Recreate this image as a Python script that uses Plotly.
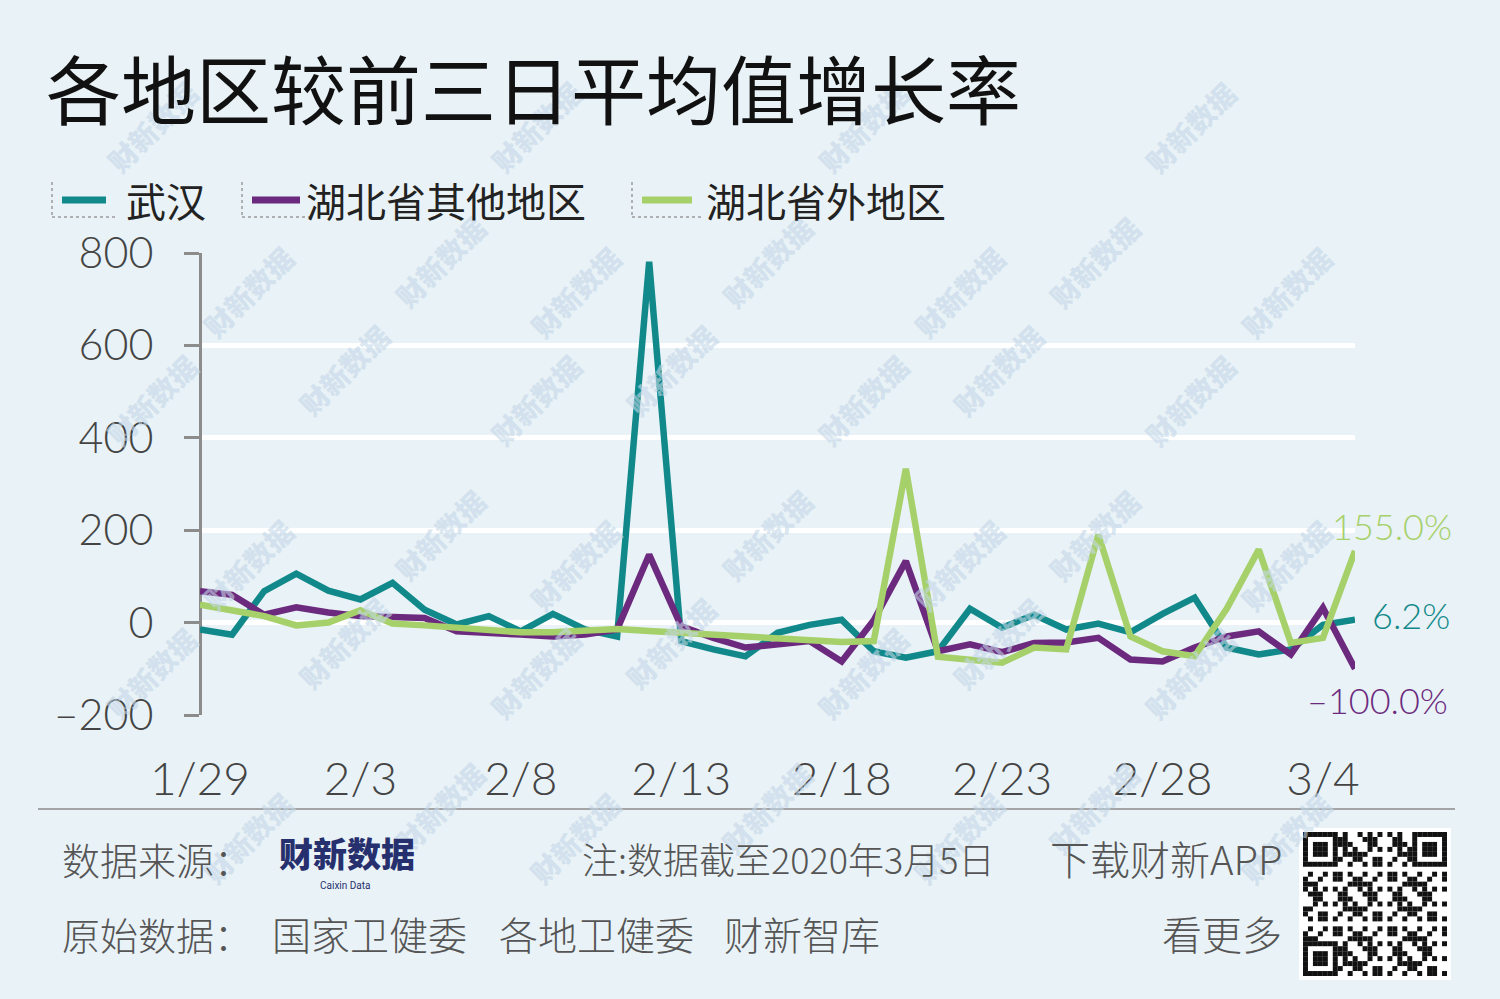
import plotly.graph_objects as go
import pandas as pd

W, H = 1500, 999

# ---------------- data ----------------
dates = pd.date_range("2020-01-29", "2020-03-05", freq="D")
tick_dates = ["2020-01-29", "2020-02-03", "2020-02-08", "2020-02-13",
              "2020-02-18", "2020-02-23", "2020-02-28", "2020-03-04"]
tick_labels = ["1/29", "2/3", "2/8", "2/13", "2/18", "2/23", "2/28", "3/4"]
y_ticks = [-200, 0, 200, 400, 600, 800]
y_tick_labels = ["–200", "0", "200", "400", "600", "800"]

series_names = ["武汉", "湖北省其他地区", "湖北省外地区"]
wuhan = [-15, -26, 68, 106, 69, 50, 86, 28, -4, 14, -19, 19, -15, -30, 781,
         -40, -58, -73, -22, -5, 6, -62, -76, -62, 30, -11, 17, -15, -2, -21,
         19, 54, -54, -69, -58, -5, 6.2]
hubei_other = [68, 60, 17, 33, 22, 14, 12, 10, -19, -24, -26, -30, -26, -15, 147,
               -8, -33, -54, -47, -40, -84, 5, 133, -62, -47, -64, -44, -43, -33, -80,
               -84, -54, -30, -19, -69, 32, -100]
outside_hubei = [39, 28, 14, -6, 0, 27, -2, -6, -11, -19, -21, -21, -19, -14, -18,
                 -22, -27, -33, -36, -40, -42, -40, 333, -74, -80, -87, -54, -58, 190, -30,
                 -62, -73, 30, 158, -44, -33, 155]
end_labels = ["6.2%", "–100.0%", "155.0%"]

colors = ["#11898a", "#6c2a7e", "#a6d06a"]
BG = "#e9f2f6"
AXIS = "#8c8c8c"
CJK = "Noto Sans CJK SC"
NUM = "Lato, Liberation Sans, sans-serif"


def px(x):
    return x / W


def py(y):
    return 1 - y / H


fig = go.Figure()
for name, vals, c in zip(series_names, [wuhan, hubei_other, outside_hubei], colors):
    fig.add_trace(go.Scatter(x=dates, y=vals, mode="lines", name=name,
                             line=dict(color=c, width=6.5), showlegend=False))

fig.update_layout(
    width=W, height=H, autosize=False,
    margin=dict(l=0, r=0, t=0, b=0),
    paper_bgcolor=BG, plot_bgcolor=BG,
    xaxis=dict(domain=[px(200), px(1355)], type="date",
               range=[dates[0], dates[-1]], anchor="free", position=py(748),
               tickvals=tick_dates, ticktext=tick_labels, ticks="",
               showgrid=False, showline=False, zeroline=False,
               tickfont=dict(family=NUM, size=46, color="#444444", weight=300),
               automargin=False),
    xaxis2=dict(domain=[px(200), px(1355)], overlaying="x", matches="x", type="date",
                anchor="free", position=py(623), showline=True, linecolor=AXIS,
                linewidth=3, ticks="outside", ticklen=14, tickwidth=3,
                tickcolor=AXIS, tickvals=tick_dates, showticklabels=False,
                showgrid=False, zeroline=False, layer="below traces",
                automargin=False),
    yaxis=dict(domain=[py(715), py(253)], range=[-200, 800],
               tickvals=y_ticks, ticktext=y_tick_labels,
               showgrid=True, gridcolor="white", gridwidth=5,
               showline=True, linecolor=AXIS, linewidth=3, ticks="outside",
               ticklen=15, tickwidth=3, tickcolor=AXIS, zeroline=False,
               anchor="free", position=px(200), ticklabelstandoff=22,
               tickfont=dict(family=NUM, size=43, color="#444444", weight=300),
               layer="below traces", automargin=False),
    showlegend=False,
)

shapes = []
annotations = []

# watermark lattice (decoration)
for r in range(6):
    for k in range(8):
        wx = 95 + 192 * k + (r % 2) * 96
        wy = 70 + 165 * r - (k % 2) * 30
        if 70 <= wx <= W - 70 and 60 <= wy <= H - 60:
            annotations.append(dict(xref="paper", yref="paper", x=px(wx), y=py(wy),
                                    text="财新数据", showarrow=False, textangle=-45,
                                    font=dict(family=CJK, size=28,
                                              color="rgba(195,215,232,0.6)", weight=900)))

# title
annotations.append(dict(xref="paper", yref="paper", x=px(44), y=py(86), xanchor="left",
                        yanchor="middle", text="各地区较前三日平均值增长率", showarrow=False,
                        font=dict(family=CJK, size=75, color="#111111", weight=400)))

# legend
leg = [(52, 62, 106, 124), (242, 252, 300, 304), (632, 642, 692, 704)]
for (bx, mx0, mx1, tx), name, c in zip(leg, series_names, colors):
    shapes.append(dict(type="line", xref="paper", yref="paper", x0=px(bx), x1=px(bx),
                       y0=py(182), y1=py(217), line=dict(color="#9a9a9a", width=1.5, dash="dot")))
    shapes.append(dict(type="line", xref="paper", yref="paper", x0=px(bx), x1=px(mx1 + 12),
                       y0=py(217), y1=py(217), line=dict(color="#9a9a9a", width=1.5, dash="dot")))
    shapes.append(dict(type="line", xref="paper", yref="paper", x0=px(mx0), x1=px(mx1),
                       y0=py(200), y1=py(200), line=dict(color=c, width=7)))
    annotations.append(dict(xref="paper", yref="paper", x=px(tx), y=py(200), xanchor="left",
                            yanchor="middle", text=name, showarrow=False,
                            font=dict(family=CJK, size=40, color="#222222")))

# end labels
end_pos = [(1452, 615), (1450, 700), (1454, 526)]
for (ex, ey), t, c in zip(end_pos, end_labels, colors):
    annotations.append(dict(xref="paper", yref="paper", x=px(ex), y=py(ey), xanchor="right",
                            yanchor="middle", text=t, showarrow=False,
                            font=dict(family=NUM, size=36, color=c, weight=300)))

# footer separator
shapes.append(dict(type="line", xref="paper", yref="paper", x0=px(38), x1=px(1455),
                   y0=py(809), y1=py(809), line=dict(color="#8a8a8a", width=1.5)))

FOOT = "#555555"
foot_texts = [
    ("数据来源：", 60, 858, "left", 38),
    ("注:数据截至2020年3月5日", 580, 858, "left", 36),
    ("下载财新APP", 1284, 858, "right", 40),
    ("原始数据：", 60, 933, "left", 38),
    ("国家卫健委", 270, 933, "left", 39),
    ("各地卫健委", 497, 933, "left", 39),
    ("财新智库", 722, 933, "left", 39),
    ("看更多", 1284, 933, "right", 40),
]
for t, fx, fy, anc, fs in foot_texts:
    annotations.append(dict(xref="paper", yref="paper", x=px(fx), y=py(fy), xanchor=anc,
                            yanchor="middle", text=t, showarrow=False,
                            font=dict(family=CJK, size=fs, color=FOOT, weight=300)))

# logo
annotations.append(dict(xref="paper", yref="paper", x=px(347), y=py(852), xanchor="center",
                        yanchor="middle", text="财新数据", showarrow=False,
                        font=dict(family=CJK, size=34, color="#27306e", weight=900)))
annotations.append(dict(xref="paper", yref="paper", x=px(345), y=py(885), xanchor="center",
                        yanchor="middle", text="Caixin Data", showarrow=False,
                        font=dict(family="Roboto", size=10, color="#27306e")))

# QR code decoration
qx0, qy0, N, m = 1303, 832, 29, 144 / 29
shapes.append(dict(type="rect", xref="paper", yref="paper", x0=px(qx0 - 4), x1=px(qx0 + 148),
                   y0=py(qy0 - 4), y1=py(qy0 + 148), fillcolor="white", line=dict(width=0)))


def finder(i, j):
    for (fi, fj) in [(0, 0), (0, N - 7), (N - 7, 0)]:
        if fi <= i < fi + 7 and fj <= j < fj + 7:
            a, b = i - fi, j - fj
            return True, (a in (0, 6) or b in (0, 6) or (2 <= a <= 4 and 2 <= b <= 4))
    return False, False


for i in range(N):
    for j in range(N):
        inf, dark = finder(i, j)
        if not inf:
            dark = ((i * 31 + j * 17 + i * j * 7) % 11) < 5
        if dark:
            shapes.append(dict(type="rect", xref="paper", yref="paper",
                               x0=px(qx0 + j * m), x1=px(qx0 + (j + 1) * m),
                               y0=py(qy0 + i * m), y1=py(qy0 + (i + 1) * m),
                               fillcolor="#111111", line=dict(width=0)))

fig.update_layout(shapes=shapes, annotations=annotations)
fig.write_html("out.html", config={"displayModeBar": False},
               post_script="document.body.style.margin='0';document.body.style.overflow='hidden';")
